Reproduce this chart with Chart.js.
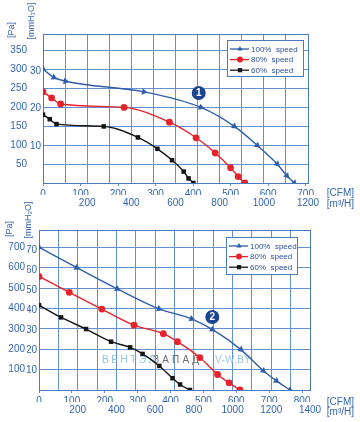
<!DOCTYPE html>
<html>
<head>
<meta charset="utf-8">
<script src="https://cdn.jsdelivr.net/npm/chart.js@4.4.1/dist/chart.umd.min.js"></script>
<style>
  html, body { margin: 0; padding: 0; background: #fff; }
  #wrap { position: relative; width: 360px; height: 422px; overflow: hidden; }
  .box { position: absolute; left: 0; width: 360px; }
</style>
</head>
<body>
<div id="wrap">
  <div class="box" style="top:0;height:212px"><canvas id="chart1"></canvas></div>
  <div class="box" style="top:200px;height:222px"><canvas id="chart2"></canvas></div>
</div>
<script>
// --- data (flow in CFM, pressure in Pa) ---
const seriesLabels = ['100%  speed', '80%  speed', '60%  speed'];

// chart 1
const c1Cfm100 = [0, 29, 60, 269, 421, 510, 571, 624, 650, 670];
const c1Pa100  = [300, 278, 268, 240, 199, 149, 99, 50, 19, 0];
const c1Cfm80  = [0, 23, 47, 216, 337, 408, 459, 500, 520, 538];
const c1Pa80   = [240, 224, 208, 199, 160, 119, 79, 40, 17, 0];
const c1Cfm60  = [0, 18, 36, 162, 253, 305, 344, 375, 388, 401];
const c1Pa60   = [180, 168, 155, 149, 120, 90, 60, 30, 12, 0];

// chart 2
const c2Cfm100 = [0, 115, 238, 365, 464, 527, 614, 682, 722, 763];
const c2Pa100  = [700, 600, 496, 398, 349, 297, 198, 94, 45, 0];
const c2Cfm80  = [0, 92, 191, 289, 378, 421, 489, 543, 578, 611];
const c2Pa80   = [557, 479, 397, 318, 276, 237, 159, 76, 35, 0];
const c2Cfm60  = [0, 67, 143, 219, 277, 315, 366, 406, 429, 459];
const c2Pa60   = [416, 356, 299, 237, 209, 177, 118, 58, 27, 0];

// tick labels
const c1CfmTicks  = [0, 100, 200, 300, 400, 500, 600, 700];
const c1M3hTicks  = [200, 400, 600, 800, 1000, 1200];
const c1PaTicks   = [50, 100, 150, 200, 250, 300, 350];
const c1MmTicks   = [10, 20, 30];
const c2CfmTicks  = [0, 100, 200, 300, 400, 500, 600, 700, 800];
const c2M3hTicks  = [200, 400, 600, 800, 1000, 1200, 1400];
const c2PaTicks   = [100, 200, 300, 400, 500, 600, 700];
const c2MmTicks   = [10, 20, 30, 40, 50, 60, 70];

const CFM_TO_M3H = 1.699;
const MM_TO_PA = 9.80665;

const colors = ['#2f5eab', '#e5232a', '#151515'];
const markers = ['triangle', 'circle', 'rect'];
const markerSizes = [3.8, 3.4, 3.2];
const gridColor = '#6590cf';
const frameColor = '#4a7bc0';
const tickColor = '#3565b0';
const FONT = '"Liberation Sans", Arial, sans-serif';

// rotate triangles along the curve
function tangentRotation(ctx) {
  const chart = ctx.chart, data = ctx.dataset.data, i = ctx.dataIndex;
  const sx = chart.scales.x, sy = chart.scales.y;
  if (!sx || !sy || !data[i]) return 0;
  const a = data[Math.max(i - 1, 0)], b = data[Math.min(i + 1, data.length - 1)];
  const dx = sx.getPixelForValue(b.x) - sx.getPixelForValue(a.x);
  const dy = sy.getPixelForValue(b.y) - sy.getPixelForValue(a.y);
  return Math.atan2(dy, dx) * 180 / Math.PI + 90;
}

function gridValues(step, max) {
  const out = [];
  for (let v = 0; v <= max + 1e-6; v += step) out.push({value: v});
  return out;
}

const framePlugin = {
  id: 'frame',
  beforeDatasetsDraw(chart) {
    const {ctx, chartArea: a} = chart;
    ctx.save();
    ctx.strokeStyle = frameColor;
    ctx.lineWidth = 1;
    ctx.strokeRect(Math.round(a.left) + 0.5, Math.round(a.top) + 0.5, Math.round(a.right - a.left), Math.round(a.bottom - a.top));
    ctx.restore();
  }
};

const extrasPlugin = {
  id: 'extras',
  beforeDatasetsDraw(chart, args, opts) {
    // watermark
    if (!opts.watermark) return;
    const ctx = chart.ctx;
    ctx.save();
    ctx.font = '10px ' + FONT;
    ctx.textBaseline = 'middle';
    opts.watermark.forEach(w => {
      ctx.fillStyle = w.color;
      let x = w.x;
      for (const ch of w.text) {
        ctx.fillText(ch, x, w.y);
        x += ctx.measureText(ch).width + w.spacing;
      }
    });
    ctx.restore();
  },
  afterDraw(chart, args, opts) {
    const ctx = chart.ctx;
    const sx = chart.scales.x, sy = chart.scales.y;

    // rotated axis titles
    ctx.save();
    ctx.fillStyle = tickColor;
    ctx.font = '9px ' + FONT;
    ctx.textAlign = 'center';
    ctx.textBaseline = 'middle';
    opts.titles.forEach(t => {
      ctx.save();
      ctx.translate(t.x, t.y);
      ctx.rotate(-Math.PI / 2);
      ctx.fillText(t.text, 0, 0);
      ctx.restore();
    });
    ctx.restore();

    // unit labels next to the tick rows
    ctx.save();
    ctx.fillStyle = tickColor;
    ctx.font = '10px ' + FONT;
    ctx.textAlign = 'right';
    ctx.textBaseline = 'middle';
    opts.units.forEach(u => ctx.fillText(u.text, u.x, u.y));
    ctx.restore();

    // circled curve number
    const b = opts.badge;
    const bx = sx.getPixelForValue(b.x), by = sy.getPixelForValue(b.y);
    ctx.save();
    ctx.beginPath();
    ctx.arc(bx, by, 7, 0, Math.PI * 2);
    ctx.fillStyle = '#1c4490';
    ctx.fill();
    ctx.fillStyle = '#fff';
    ctx.font = 'bold 10px ' + FONT;
    ctx.textAlign = 'center';
    ctx.textBaseline = 'middle';
    ctx.fillText(b.text, bx, by + 0.5);
    ctx.restore();

    // legend box
    const L = opts.legend;
    ctx.save();
    ctx.fillStyle = '#fff';
    ctx.fillRect(L.x, L.y, L.w, L.h);
    ctx.strokeStyle = frameColor;
    ctx.lineWidth = 1;
    ctx.strokeRect(L.x + 0.5, L.y + 0.5, L.w, L.h);
    ctx.font = '8px ' + FONT;
    ctx.textBaseline = 'middle';
    chart.data.datasets.forEach((ds, i) => {
      const y = L.y + 9 + i * 10.6;
      ctx.strokeStyle = ds.borderColor;
      ctx.lineWidth = 1.3;
      ctx.beginPath();
      ctx.moveTo(L.x + 3, y);
      ctx.lineTo(L.x + 22, y);
      ctx.stroke();
      ctx.fillStyle = ds.borderColor;
      Chart.helpers.drawPoint(ctx, {pointStyle: ds.pointStyle, radius: 3, rotation: 0, borderWidth: 0}, L.x + 13, y);
      ctx.fillStyle = '#2b4f9e';
      ctx.fillText(ds.label, L.x + 24, y + 0.5);
    });
    ctx.restore();
  }
};

function makeChart(id, cfg) {
  const datasets = cfg.series.map((s, i) => ({
    label: seriesLabels[i],
    data: s.x.map((v, j) => ({x: v, y: s.y[j]})),
    borderColor: colors[i],
    backgroundColor: colors[i],
    borderWidth: 1.4,
    pointStyle: markers[i],
    pointRadius: markerSizes[i],
    pointBorderWidth: 0,
    pointRotation: i === 0 ? tangentRotation : 0,
    showLine: true,
    cubicInterpolationMode: 'monotone',
    xAxisID: 'x',
    yAxisID: 'y'
  }));
  const font = {family: FONT, size: 10};
  const pick = list => v => list.includes(v) ? String(v) : '';
  const fromList = list => s => { s.ticks = list.map(v => ({value: v})); };
  return new Chart(document.getElementById(id), {
    type: 'scatter',
    data: {datasets},
    options: {
      responsive: true,
      maintainAspectRatio: false,
      animation: false,
      layout: {padding: cfg.padding},
      plugins: {
        legend: {display: false},
        tooltip: {enabled: false},
        extras: cfg.extras
      },
      scales: {
        x: {
          type: 'linear', position: 'bottom', weight: 0,
          min: 0, max: cfg.m3hMax / CFM_TO_M3H,
          afterBuildTicks: fromList(cfg.cfmTicks),
          ticks: {autoSkip: false, maxRotation: 0, padding: 2, color: tickColor, font, callback: pick(cfg.cfmTicks)},
          grid: {drawOnChartArea: false, drawTicks: true, tickLength: 3, color: gridColor},
          border: {display: false},
          afterFit: s => { s.height = 12; }
        },
        x2: {
          type: 'linear', position: 'bottom', weight: 1,
          min: 0, max: cfg.m3hMax,
          afterBuildTicks: s => { s.ticks = gridValues(100, cfg.m3hMax); },
          ticks: {autoSkip: false, maxRotation: 0, padding: 2, color: tickColor, font, callback: pick(cfg.m3hTicks)},
          grid: {drawTicks: false, color: gridColor},
          border: {display: false},
          afterFit: s => { s.height = 14; }
        },
        y: {
          type: 'linear', position: 'left', weight: 1,
          min: 0, max: cfg.mmMax * MM_TO_PA,
          afterBuildTicks: s => { s.ticks = gridValues(cfg.paStep, cfg.paTicks[cfg.paTicks.length - 1]); },
          ticks: {autoSkip: false, padding: 2, color: tickColor, font, callback: pick(cfg.paTicks)},
          grid: {drawTicks: false, color: gridColor},
          border: {display: false},
          afterFit: s => { s.width = cfg.paW; }
        },
        y2: {
          type: 'linear', position: 'left', weight: 0,
          min: 0, max: cfg.mmMax,
          afterBuildTicks: fromList(cfg.mmTicks),
          ticks: {autoSkip: false, padding: 2, color: tickColor, font, callback: pick(cfg.mmTicks)},
          grid: {display: false, drawTicks: false},
          border: {display: false},
          afterFit: s => { s.width = cfg.mmW; }
        }
      }
    },
    plugins: [framePlugin, extrasPlugin]
  });
}

makeChart('chart1', {
  series: [
    {x: c1Cfm100, y: c1Pa100},
    {x: c1Cfm80, y: c1Pa80},
    {x: c1Cfm60, y: c1Pa60}
  ],
  m3hMax: 1200, mmMax: 40, paStep: 50,
  cfmTicks: c1CfmTicks, m3hTicks: c1M3hTicks, paTicks: c1PaTicks, mmTicks: c1MmTicks,
  paW: 29, mmW: 14,
  padding: {left: 0, top: 34, right: 52, bottom: 3},
  extras: {
    titles: [{text: '[Pa]', x: 12, y: 30}, {text: '[mmH₂O]', x: 32, y: 21}],
    units: [{text: '[CFM]', x: 354, y: 193}, {text: '[m³/H]', x: 354, y: 204}],
    badge: {x: 415, y: 237, text: '1'},
    legend: {x: 227, y: 40, w: 76, h: 36}
  }
});

makeChart('chart2', {
  series: [
    {x: c2Cfm100, y: c2Pa100},
    {x: c2Cfm80, y: c2Pa80},
    {x: c2Cfm60, y: c2Pa60}
  ],
  m3hMax: 1400, mmMax: 80, paStep: 100,
  cfmTicks: c2CfmTicks, m3hTicks: c2M3hTicks, paTicks: c2PaTicks, mmTicks: c2MmTicks,
  paW: 27, mmW: 12,
  padding: {left: 0, top: 30, right: 50, bottom: 6},
  extras: {
    titles: [{text: '[Pa]', x: 10, y: 29}, {text: '[mmH₂O]', x: 29, y: 20}],
    units: [{text: '[CFM]', x: 354, y: 202}, {text: '[m³/H]', x: 354, y: 212}],
    badge: {x: 527, y: 358, text: '2'},
    legend: {x: 226, y: 37, w: 71, h: 37},
    watermark: [
      {text: 'ВЕНТЭЛ', x: 102, y: 160, spacing: 2.6, color: '#8fc3ea'},
      {text: 'ЗАПАД', x: 153, y: 160, spacing: 3.2, color: '#707070'},
      {text: 'V-W.BY', x: 215, y: 160, spacing: 0, color: '#a3c4e2'}
    ]
  }
});
</script>
</body>
</html>
